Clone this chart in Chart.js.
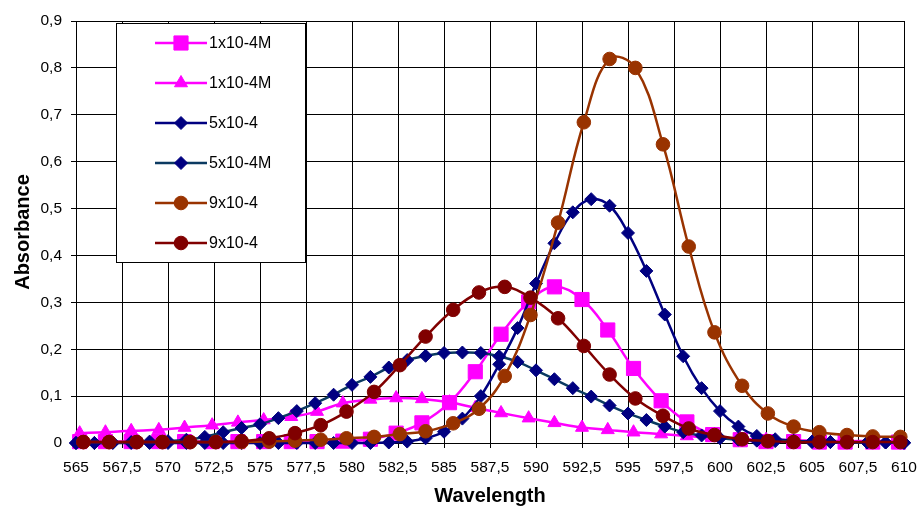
<!DOCTYPE html>
<html>
<head>
<meta charset="utf-8">
<script src="https://cdn.jsdelivr.net/npm/chart.js@4/dist/chart.umd.min.js"></script>
<style>
  html, body { margin: 0; padding: 0; background: #fff; }
  #wrap { width: 919px; height: 506px; }
</style>
</head>
<body>
<div id="wrap"><canvas id="c" width="919" height="506"></canvas></div>
<script>
// ---- data ----
const seriesNames = ['1x10-4M', '1x10-4M', '5x10-4', '5x10-4M', '9x10-4', '9x10-4'];

// wavelengths for squares / triangles
const wlA = [565.2, 566.6, 568.0, 569.5, 570.9, 572.4, 573.8, 575.2, 576.7, 578.1, 579.5, 581.0, 582.4, 583.8, 585.3, 586.7,
             588.1, 589.6, 591.0, 592.5, 593.9, 595.3, 596.8, 598.2, 599.6, 601.1, 602.5, 604.0, 605.4, 606.8, 608.3, 609.7];
// wavelengths for circles
const wlC = [565.4, 566.8, 568.3, 569.7, 571.2, 572.6, 574.0, 575.5, 576.9, 578.3, 579.7, 581.2, 582.6, 584.0, 585.5, 586.9,
             588.3, 589.7, 591.2, 592.6, 594.0, 595.4, 596.9, 598.3, 599.7, 601.2, 602.6, 604.0, 605.4, 606.9, 608.3, 609.8];
// wavelengths for diamonds (1 nm)
const wlD = [565, 566, 567, 568, 569, 570, 571, 572, 573, 574, 575, 576, 577, 578, 579, 580, 581, 582, 583, 584, 585, 586, 587,
             588, 589, 590, 591, 592, 593, 594, 595, 596, 597, 598, 599, 600, 601, 602, 603, 604, 605, 606, 607, 608, 609, 610];

const squares1 = [0.003, 0.003, 0.003, 0.003, 0.003, 0.003, 0.003, 0.003, 0.003, 0.003, 0.004, 0.008, 0.021, 0.043, 0.086, 0.152,
                  0.232, 0.301, 0.333, 0.306, 0.241, 0.159, 0.090, 0.045, 0.018, 0.007, 0.003, 0.003, 0.002, 0.002, 0.002, 0.002];
const triangles1 = [0.021, 0.023, 0.026, 0.028, 0.033, 0.038, 0.044, 0.049, 0.056, 0.067, 0.085, 0.093, 0.096, 0.094, 0.087, 0.075,
                    0.064, 0.053, 0.043, 0.033, 0.028, 0.023, 0.019, 0.015, 0.011, 0.009, 0.007, 0.006, 0.005, 0.004, 0.004, 0.003];
const diamonds5 = [0.000, 0.000, 0.000, 0.000, 0.000, 0.000, 0.000, 0.000, 0.000, 0.000, 0.000, 0.000, 0.000, 0.000, 0.000, 0.000,
                   0.000, 0.001, 0.003, 0.010, 0.024, 0.052, 0.100, 0.168, 0.245, 0.340, 0.426, 0.492, 0.520, 0.506, 0.448, 0.367,
                   0.274, 0.185, 0.117, 0.068, 0.035, 0.015, 0.008, 0.005, 0.003, 0.002, 0.001, 0.001, 0.001, 0.000];
const diamonds5M = [0.000, 0.000, 0.001, 0.002, 0.003, 0.004, 0.007, 0.013, 0.023, 0.032, 0.040, 0.053, 0.068, 0.085, 0.103, 0.124,
                    0.141, 0.161, 0.177, 0.186, 0.192, 0.193, 0.192, 0.185, 0.173, 0.155, 0.136, 0.117, 0.099, 0.080, 0.063, 0.049,
                    0.035, 0.023, 0.016, 0.010, 0.007, 0.005, 0.004, 0.003, 0.002, 0.002, 0.001, 0.001, 0.001, 0.001];
const circles9a = [0.002, 0.002, 0.002, 0.002, 0.002, 0.002, 0.002, 0.003, 0.005, 0.007, 0.010, 0.013, 0.019, 0.025, 0.042, 0.073,
                   0.143, 0.273, 0.470, 0.684, 0.819, 0.800, 0.637, 0.419, 0.236, 0.122, 0.063, 0.035, 0.023, 0.017, 0.014, 0.013];
const circles9b = [0.002, 0.002, 0.002, 0.002, 0.002, 0.002, 0.004, 0.010, 0.021, 0.038, 0.067, 0.109, 0.166, 0.227, 0.284, 0.321,
                   0.333, 0.310, 0.266, 0.207, 0.146, 0.095, 0.058, 0.031, 0.017, 0.008, 0.004, 0.002, 0.002, 0.002, 0.002, 0.002];

const xTickLabels = ['565', '567,5', '570', '572,5', '575', '577,5', '580', '582,5', '585', '587,5',
                     '590', '592,5', '595', '597,5', '600', '602,5', '605', '607,5', '610'];
const yTickLabels = ['0', '0,1', '0,2', '0,3', '0,4', '0,5', '0,6', '0,7', '0,8', '0,9'];

// ---- styles ----
const FONT = "'Liberation Sans', Arial, Helvetica, sans-serif";
const styles = [
  { line: '#ff00ff', fill: '#ff00ff', shape: 'rect',     r: 10,  order: 6 },
  { line: '#ff00ff', fill: '#ff00ff', shape: 'triangle', r: 7.5, order: 5 },
  { line: '#000080', fill: '#000080', shape: 'rectRot',  r: 6.5, order: 4 },
  { line: '#0b3a61', fill: '#000080', shape: 'rectRot',  r: 6.5, order: 3 },
  { line: '#993300', fill: '#993300', shape: 'circle',   r: 6.8, order: 2 },
  { line: '#800000', fill: '#800000', shape: 'circle',   r: 6.8, order: 1 }
];
const xs = [wlA, wlA, wlD, wlD, wlC, wlC];
const ys = [squares1, triangles1, diamonds5, diamonds5M, circles9a, circles9b];

const datasets = seriesNames.map((name, i) => ({
  label: name,
  data: xs[i].map((x, k) => ({ x: x, y: ys[i][k] })),
  showLine: true,
  borderColor: styles[i].line,
  borderWidth: 2.5,
  backgroundColor: styles[i].fill,
  pointBackgroundColor: styles[i].fill,
  pointBorderColor: styles[i].fill,
  pointBorderWidth: 1,
  pointStyle: styles[i].shape,
  pointRadius: styles[i].r,
  pointHoverRadius: styles[i].r,
  tension: 0.4,
  clip: false,
  order: styles[i].order
}));

function drawMarker(ctx, shape, x, y, r) {
  ctx.beginPath();
  if (shape === 'circle') {
    ctx.arc(x, y, r, 0, Math.PI * 2);
  } else if (shape === 'rect') {
    const s = Math.SQRT1_2 * r;
    ctx.rect(x - s, y - s, 2 * s, 2 * s);
  } else if (shape === 'rectRot') {
    ctx.moveTo(x, y - r); ctx.lineTo(x + r, y); ctx.lineTo(x, y + r); ctx.lineTo(x - r, y); ctx.closePath();
  } else if (shape === 'triangle') {
    for (let k = 0; k < 3; k++) {
      const a = k * 2 * Math.PI / 3;
      const px = x + Math.sin(a) * r, py = y - Math.cos(a) * r;
      if (k === 0) ctx.moveTo(px, py); else ctx.lineTo(px, py);
    }
    ctx.closePath();
  }
  ctx.fill();
  ctx.stroke();
}

const legendBox = {
  id: 'legendBox',
  afterDatasetsDraw(chart) {
    const ctx = chart.ctx;
    ctx.save();
    ctx.fillStyle = '#fff';
    ctx.strokeStyle = '#000';
    ctx.lineWidth = 1;
    ctx.fillRect(116.5, 23.5, 189, 239);
    ctx.strokeRect(116.5, 23.5, 189, 239);
    seriesNames.forEach((name, i) => {
      const yy = 43 + 40 * i;
      ctx.strokeStyle = styles[i].line;
      ctx.lineWidth = 2.5;
      ctx.beginPath(); ctx.moveTo(155, yy); ctx.lineTo(207, yy); ctx.stroke();
      ctx.fillStyle = styles[i].fill;
      ctx.strokeStyle = styles[i].fill;
      ctx.lineWidth = 1;
      drawMarker(ctx, styles[i].shape, 181, yy, styles[i].r);
      ctx.fillStyle = '#000';
      ctx.font = '16px ' + FONT;
      ctx.textAlign = 'left';
      ctx.textBaseline = 'middle';
      ctx.fillText(name, 209, yy + 1);
    });
    ctx.restore();
  }
};

new Chart(document.getElementById('c'), {
  type: 'scatter',
  data: { datasets: datasets },
  options: {
    responsive: false,
    animation: false,
    devicePixelRatio: 1,
    layout: { padding: { top: 21, right: 15, left: 0, bottom: 0 } },
    plugins: { legend: { display: false }, tooltip: { enabled: false } },
    scales: {
      x: {
        type: 'linear',
        min: 565, max: 610,
        afterFit(s) { s.height = 63; s.paddingLeft = 0; s.paddingRight = 0; },
        afterBuildTicks(s) { s.ticks = xTickLabels.map((t, k) => ({ value: 565 + 2.5 * k })); },
        ticks: {
          color: '#000', padding: 10, maxRotation: 0, autoSkip: false,
          font: { family: FONT, size: 15.5 },
          callback: (v, idx) => xTickLabels[idx]
        },
        grid: { color: '#000', lineWidth: 1, tickLength: 5, drawTicks: true },
        border: { color: '#000', width: 1 },
        title: { display: true, text: 'Wavelength', color: '#000',
                 font: { family: FONT, size: 20, weight: 'bold', lineHeight: 1 }, padding: { top: 0, bottom: 0 } }
      },
      y: {
        type: 'linear',
        min: 0, max: 0.9,
        afterFit(s) { s.width = 76; s.paddingTop = 0; s.paddingBottom = 0; },
        afterBuildTicks(s) { s.ticks = yTickLabels.map((t, k) => ({ value: k / 10 })); },
        ticks: {
          color: '#000', padding: 9, autoSkip: false,
          font: { family: FONT, size: 15.5 },
          callback: (v, idx) => yTickLabels[idx]
        },
        grid: { color: '#000', lineWidth: 1, tickLength: 5, drawTicks: true },
        border: { color: '#000', width: 1 },
        title: { display: true, text: 'Absorbance', color: '#000',
                 font: { family: FONT, size: 20, weight: 'bold', lineHeight: 1 }, padding: { top: 13, bottom: 0 } }
      }
    }
  },
  plugins: [legendBox]
});
</script>
</body>
</html>
